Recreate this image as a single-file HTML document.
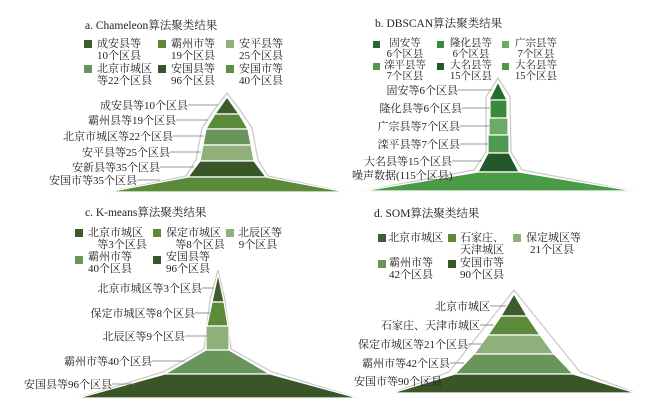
<!DOCTYPE html>
<html><head><meta charset="utf-8"><style>
html,body{margin:0;padding:0;background:#fff}
svg{display:block}
text{font-family:"Liberation Serif","Noto Serif CJK SC",serif;fill:#222;font-size:11px}
.t{font-size:11.5px}
.g{font-size:10.5px}
.l{stroke:#777;stroke-width:0.8}
.o{fill:none;stroke:#c8c8c8;stroke-width:1.2}
.s{stroke:#fff;stroke-width:1.2}
</style></head><body>
<svg width="648" height="413" viewBox="0 0 648 413" xmlns="http://www.w3.org/2000/svg">
<!-- Panel a -->
<text x="85" y="29" class="t">a. Chameleon算法聚类结果</text>
<rect x="84" y="40" width="8" height="8" fill="#3f5c2c"/><text x="97" y="47">成安县等</text><text x="97" y="59">10个区县</text>
<rect x="158" y="40" width="8" height="8" fill="#5a8a3a"/><text x="171" y="47">霸州市等</text><text x="171" y="59">19个区县</text>
<rect x="226" y="40" width="8" height="8" fill="#8fb07a"/><text x="239" y="47">安平县等</text><text x="239" y="59">25个区县</text>
<rect x="84" y="65" width="8" height="8" fill="#6a955a"/><text x="97" y="72">北京市城区</text><text x="97" y="84">等22个区县</text>
<rect x="158" y="65" width="8" height="8" fill="#3a5528"/><text x="171" y="72">安国县等</text><text x="171" y="84">96个区县</text>
<rect x="226" y="65" width="8" height="8" fill="#5f9145"/><text x="239" y="72">安国市等</text><text x="239" y="84">40个区县</text>
<polygon class="o" points="227,93 240,110 252,128 258,160 268,176 346,192 108,192 186,176 196,160 202,128 214,110"/>
<polygon class="s" fill="#3f5c2c" points="227,97 239,114 215,114"/>
<polygon class="s" fill="#5a8a3a" points="215,114 239,114 248,129 206,129"/>
<polygon class="s" fill="#6a955a" points="206,129 248,129 251,145 203,145"/>
<polygon class="s" fill="#8fb07a" points="203,145 251,145 254,161 200,161"/>
<polygon class="s" fill="#3a5528" points="200,161 254,161 266,177 188,177"/>
<polygon class="s" fill="#5a8a3a" points="188,177 266,177 346,192 108,192"/>
<text x="188" y="109" text-anchor="end">成安县等10个区县</text><line class="l" x1="188" y1="105" x2="218" y2="105"/>
<text x="176" y="124" text-anchor="end">霸州县等19个区县</text><line class="l" x1="176" y1="120" x2="208" y2="120"/>
<text x="173" y="140" text-anchor="end">北京市城区等22个区县</text><line class="l" x1="173" y1="136" x2="204" y2="136"/>
<text x="170" y="156" text-anchor="end">安平县等25个区县</text><line class="l" x1="170" y1="152" x2="201" y2="152"/>
<text x="160" y="171" text-anchor="end">安新县等35个区县</text><line class="l" x1="160" y1="167" x2="194" y2="167"/>
<text x="137" y="184" text-anchor="end">安国市等35个区县</text><line class="l" x1="137" y1="180" x2="160" y2="180"/>
<!-- Panel b -->
<text x="375" y="27" class="t">b. DBSCAN算法聚类结果</text>
<rect x="373" y="41" width="7" height="7" fill="#266a30"/><text class="g" x="405" y="46" text-anchor="middle">固安等</text><text class="g" x="405" y="57" text-anchor="middle">6个区县</text>
<rect x="437" y="41" width="7" height="7" fill="#3a8a3c"/><text class="g" x="471" y="46" text-anchor="middle">隆化县等</text><text class="g" x="471" y="57" text-anchor="middle">6个区县</text>
<rect x="502" y="41" width="7" height="7" fill="#6cab66"/><text class="g" x="536" y="46" text-anchor="middle">广宗县等</text><text class="g" x="536" y="57" text-anchor="middle">7个区县</text>
<rect x="373" y="63" width="7" height="7" fill="#4e9a52"/><text class="g" x="405" y="68" text-anchor="middle">滦平县等</text><text class="g" x="405" y="79" text-anchor="middle">7个区县</text>
<rect x="437" y="63" width="7" height="7" fill="#22582a"/><text class="g" x="471" y="68" text-anchor="middle">大名县等</text><text class="g" x="471" y="79" text-anchor="middle">15个区县</text>
<rect x="502" y="63" width="7" height="7" fill="#4a9a46"/><text class="g" x="536" y="68" text-anchor="middle">大名县等</text><text class="g" x="536" y="79" text-anchor="middle">15个区县</text>
<polygon class="o" points="498,78 510,97 511,152 522,170 634,191 363,191 474,170 486,152 486,97"/>
<polygon class="s" fill="#266a30" points="498,82 507,100 489,100"/>
<rect class="s" fill="#3a8a3c" x="490" y="100" width="17" height="18"/>
<rect class="s" fill="#6cab66" x="489" y="118" width="19" height="17"/>
<rect class="s" fill="#4e9a52" x="488" y="135" width="21" height="18"/>
<polygon class="s" fill="#22582a" points="488,153 509,153 519,172 478,172"/>
<polygon class="s" fill="#4a9a46" points="478,172 519,172 634,191 363,191"/>
<text x="458" y="94" text-anchor="end">固安等6个区县</text><line class="l" x1="458" y1="90" x2="492" y2="90"/>
<text x="462" y="112" text-anchor="end">隆化县等6个区县</text><line class="l" x1="462" y1="108" x2="490" y2="108"/>
<text x="460" y="130" text-anchor="end">广宗县等7个区县</text><line class="l" x1="460" y1="126" x2="489" y2="126"/>
<text x="460" y="148" text-anchor="end">滦平县等7个区县</text><line class="l" x1="460" y1="144" x2="488" y2="144"/>
<text x="452" y="165" text-anchor="end">大名县等15个区县</text><line class="l" x1="452" y1="161" x2="482" y2="161"/>
<text x="352" y="179">噪声数据(115个区县)</text>
<!-- Panel c -->
<text x="85" y="216" class="t">c. K-means算法聚类结果</text>
<rect x="75" y="229" width="8" height="8" fill="#3f5c2c"/><text x="88" y="236">北京市城区</text><text x="122" y="248" text-anchor="middle">等3个区县</text>
<rect x="153" y="229" width="8" height="8" fill="#5a8a3a"/><text x="166" y="236">保定市城区</text><text x="200" y="248" text-anchor="middle">等8个区县</text>
<rect x="226" y="229" width="8" height="8" fill="#8fb07a"/><text x="238" y="236">北辰区等</text><text x="258" y="248" text-anchor="middle">9个区县</text>
<rect x="75" y="256" width="8" height="8" fill="#6a955a"/><text x="88" y="260">霸州市等</text><text x="88" y="272">40个区县</text>
<rect x="153" y="256" width="8" height="8" fill="#3a5528"/><text x="166" y="260">安国县等</text><text x="166" y="272">96个区县</text>
<polygon class="o" points="218,270 225,300 231,349 272,372 358,398 78,398 163,372 204,349 210,300"/>
<polygon class="s" fill="#3f5c2c" points="218,274 224,302 212,302"/>
<polygon class="s" fill="#5a8a3a" points="212,302 224,302 228,326 207,326"/>
<rect class="s" fill="#8fb07a" x="206" y="326" width="23" height="24"/>
<polygon class="s" fill="#6a955a" points="206,350 229,350 270,374 165,374"/>
<polygon class="s" fill="#3a5528" points="165,374 270,374 358,398 78,398"/>
<text x="202" y="292" text-anchor="end">北京市城区等3个区县</text><line class="l" x1="202" y1="288" x2="214" y2="288"/>
<text x="195" y="317" text-anchor="end">保定市城区等8个区县</text><line class="l" x1="195" y1="313" x2="210" y2="313"/>
<text x="185" y="340" text-anchor="end">北辰区等9个区县</text><line class="l" x1="185" y1="336" x2="207" y2="336"/>
<text x="152" y="365" text-anchor="end">霸州市等40个区县</text><line class="l" x1="152" y1="361" x2="185" y2="361"/>
<text x="112" y="388" text-anchor="end">安国县等96个区县</text><line class="l" x1="112" y1="384" x2="135" y2="384"/>
<!-- Panel d -->
<text x="374" y="217" class="t">d. SOM算法聚类结果</text>
<rect x="378" y="234" width="8" height="8" fill="#3f5c2c"/><text x="388" y="241">北京市城区</text>
<rect x="448" y="234" width="8" height="8" fill="#5a8a3a"/><text x="460" y="241">石家庄、</text><text x="460" y="253">天津城区</text>
<rect x="513" y="234" width="8" height="8" fill="#8fb07a"/><text x="526" y="241">保定城区等</text><text x="552" y="253" text-anchor="middle">21个区县</text>
<rect x="378" y="260" width="8" height="8" fill="#6a955a"/><text x="389" y="266">霸州市等</text><text x="389" y="278">42个区县</text>
<rect x="448" y="260" width="8" height="8" fill="#3a5528"/><text x="460" y="266">安国市等</text><text x="460" y="278">90个区县</text>
<polygon class="o" points="514,290 580,372 636,393 392,393 449,372"/>
<polygon class="s" fill="#3f5c2c" points="514,294 527,316 501,316"/>
<polygon class="s" fill="#5a8a3a" points="501,316 527,316 540,335 488,335"/>
<polygon class="s" fill="#8fb07a" points="488,335 540,335 554,354 474,354"/>
<polygon class="s" fill="#6a955a" points="474,354 554,354 573,374 455,374"/>
<polygon class="s" fill="#3a5528" points="455,374 573,374 636,393 392,393"/>
<text x="490" y="310" text-anchor="end">北京市城区</text><line class="l" x1="490" y1="306" x2="506" y2="306"/>
<text x="480" y="329" text-anchor="end">石家庄、天津市城区</text><line class="l" x1="480" y1="325" x2="494" y2="325"/>
<text x="468" y="348" text-anchor="end">保定市城区等21个区县</text><line class="l" x1="468" y1="344" x2="482" y2="344"/>
<text x="450" y="367" text-anchor="end">霸州市等42个区县</text><line class="l" x1="450" y1="363" x2="464" y2="363"/>
<text x="354" y="385">安国市等90个区县</text>
</svg>
</body></html>
